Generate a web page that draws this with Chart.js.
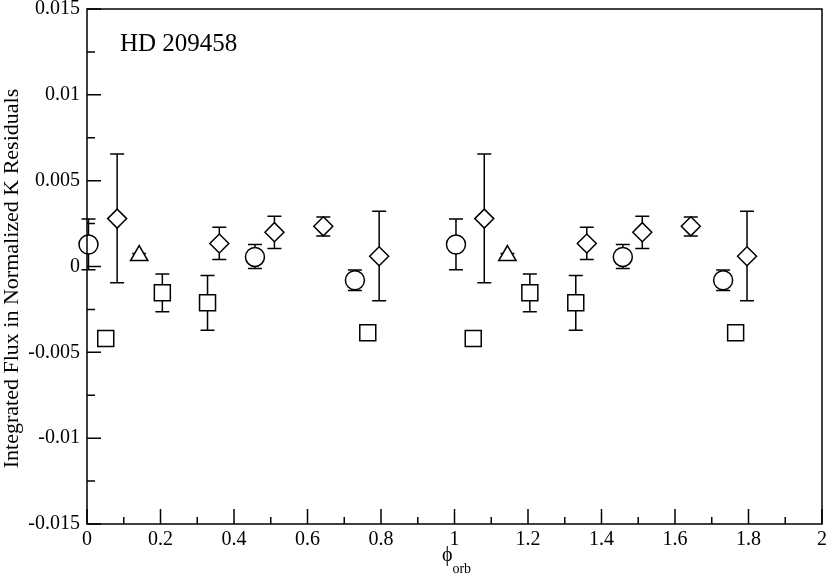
<!DOCTYPE html>
<html><head><meta charset="utf-8">
<script src="https://cdn.jsdelivr.net/npm/chart.js@4/dist/chart.umd.min.js"></script>
<style>html,body{margin:0;padding:0;background:#fff}canvas{display:block}</style>
</head><body>
<canvas id="c" width="830" height="578"></canvas>
<script>
// ---- text ----
const chartLabel = 'HD 209458';
const yAxisTitle = 'Integrated Flux in Normalized K Residuals';
const xAxisSymbol = '\u03D5';
const xAxisSub = 'orb';

// ---- axis ranges / ticks ----
const xRange = [0, 2];
const xStep = 0.2;
const yRange = [-0.015, 0.015];
const yStep = 0.005;

// ---- series (x = orbital phase, y = residual, lo/hi = error bar ends) ----
const circleX  = [0.004, 0.457, 0.729, 1.004, 1.458, 1.731];
const circleY  = [0.00128, 0.00056, -0.00080, 0.00128, 0.00056, -0.00080];
const circleLo = [-0.00019, -0.00012, -0.00140, -0.00019, -0.00012, -0.00140];
const circleHi = [0.00277, 0.00128, -0.00021, 0.00277, 0.00128, -0.00021];

const squareX  = [0.051, 0.205, 0.328, 0.764, 1.051, 1.205, 1.330, 1.765];
const squareY  = [-0.00419, -0.00153, -0.00211, -0.00386, -0.00419, -0.00153, -0.00211, -0.00386];
const squareLo = [-0.00419, -0.00263, -0.00372, -0.00386, -0.00419, -0.00263, -0.00372, -0.00386];
const squareHi = [-0.00419, -0.00043, -0.00052, -0.00386, -0.00419, -0.00043, -0.00052, -0.00386];

const diamondX  = [0.082, 0.360, 0.510, 0.643, 0.795, 1.081, 1.360, 1.511, 1.643, 1.796];
const diamondY  = [0.00279, 0.00134, 0.00200, 0.00234, 0.00060, 0.00279, 0.00134, 0.00200, 0.00234, 0.00060];
const diamondLo = [-0.00095, 0.00041, 0.00105, 0.00178, -0.00200, -0.00095, 0.00041, 0.00105, 0.00178, -0.00200];
const diamondHi = [0.00655, 0.00229, 0.00292, 0.00289, 0.00322, 0.00655, 0.00229, 0.00292, 0.00289, 0.00322];

const triangleX  = [0.142, 1.144];
const triangleY  = [0.00064, 0.00064];
const triangleLo = [0.00040, 0.00040];
const triangleHi = [0.00076, 0.00076];

function pts(xs, ys, lo, hi) {
  return xs.map((x, i) => ({x: x, y: ys[i], lo: lo[i], hi: hi[i]}));
}

const SERIF = "'Liberation Serif', 'Times New Roman', 'DejaVu Serif', serif";

function markerSet(label, data, style, radius) {
  return {
    label: label, data: data, pointStyle: style, pointRadius: radius,
    pointBackgroundColor: '#fff', pointBorderColor: '#000', pointBorderWidth: 1.5,
    showLine: false, clip: false
  };
}

const errorBars = {
  id: 'errorBars',
  beforeDatasetsDraw(chart) {
    const {ctx, scales: {x, y}} = chart;
    ctx.save();
    ctx.strokeStyle = '#000';
    ctx.lineWidth = 1.5;
    chart.data.datasets.forEach(ds => {
      ds.data.forEach(p => {
        if (p.lo === p.hi) return;
        const px = x.getPixelForValue(p.x);
        const y1 = y.getPixelForValue(p.lo), y2 = y.getPixelForValue(p.hi);
        ctx.beginPath();
        ctx.moveTo(px, y1); ctx.lineTo(px, y2);
        ctx.moveTo(px - 7, y1); ctx.lineTo(px + 7, y1);
        ctx.moveTo(px - 7, y2); ctx.lineTo(px + 7, y2);
        ctx.stroke();
      });
    });
    ctx.restore();
  }
};

const frameAndText = {
  id: 'frameAndText',
  afterDatasetsDraw(chart) {
    const {ctx, chartArea: a, scales: {x, y}} = chart;
    ctx.save();
    ctx.strokeStyle = '#000';
    ctx.lineWidth = 1.5;
    ctx.strokeRect(a.left, a.top, a.right - a.left, a.bottom - a.top);
    ctx.beginPath();
    // x ticks (inward)
    const xt = x.ticks.map(t => t.value);
    xt.forEach((v, i) => {
      const p = x.getPixelForValue(v);
      ctx.moveTo(p, a.bottom); ctx.lineTo(p, a.bottom - 15);
      if (i < xt.length - 1) {
        const m = x.getPixelForValue((v + xt[i + 1]) / 2);
        ctx.moveTo(m, a.bottom); ctx.lineTo(m, a.bottom - 7);
      }
    });
    // y ticks (inward)
    const yt = y.ticks.map(t => t.value);
    yt.forEach((v, i) => {
      const p = y.getPixelForValue(v);
      ctx.moveTo(a.left, p); ctx.lineTo(a.left + 14, p);
      if (i < yt.length - 1) {
        const m = y.getPixelForValue((v + yt[i + 1]) / 2);
        ctx.moveTo(a.left, m); ctx.lineTo(a.left + 8, m);
      }
    });
    ctx.stroke();

    ctx.fillStyle = '#000';
    ctx.textBaseline = 'alphabetic';

    // label inside plot
    ctx.font = '25px ' + SERIF;
    ctx.textAlign = 'left';
    ctx.fillText(chartLabel, a.left + 33, a.top + 42);

    // y axis title
    ctx.save();
    ctx.font = '22px ' + SERIF;
    ctx.textAlign = 'center';
    ctx.translate(18, (a.top + a.bottom) / 2 + 12);
    ctx.rotate(-Math.PI / 2);
    ctx.fillText(yAxisTitle, 0, 0);
    ctx.restore();

    // x axis title with subscript
    ctx.textAlign = 'left';
    ctx.font = '20px ' + SERIF;
    const w1 = ctx.measureText(xAxisSymbol).width;
    ctx.font = '14px ' + SERIF;
    const w2 = ctx.measureText(xAxisSub).width;
    const cx = (a.left + a.right) / 2 + 2;
    const sx = cx - (w1 + w2) / 2;
    ctx.font = '20px ' + SERIF;
    ctx.fillText(xAxisSymbol, sx, a.bottom + 36.5);
    ctx.font = '14px ' + SERIF;
    ctx.fillText(xAxisSub, sx + w1, a.bottom + 49);
    ctx.restore();
  }
};

function fmt(v) { return String(Math.round(v * 1000) / 1000); }

new Chart(document.getElementById('c'), {
  type: 'scatter',
  data: {
    datasets: [
      markerSet('circles', pts(circleX, circleY, circleLo, circleHi), 'circle', 9.5),
      markerSet('squares', pts(squareX, squareY, squareLo, squareHi), 'rect', 11.3),
      markerSet('diamonds', pts(diamondX, diamondY, diamondLo, diamondHi), 'rectRot', 9.5),
      markerSet('triangles', pts(triangleX, triangleY, triangleLo, triangleHi), 'triangle', 10)
    ]
  },
  options: {
    responsive: false,
    animation: false,
    devicePixelRatio: 1,
    layout: {autoPadding: false, padding: {top: 9, right: 8, left: 0, bottom: 0}},
    plugins: {legend: {display: false}, tooltip: {enabled: false}},
    scales: {
      x: {
        type: 'linear', min: xRange[0], max: xRange[1],
        grid: {display: false, drawTicks: false},
        border: {display: false},
        ticks: {stepSize: xStep, autoSkip: false, maxRotation: 0, padding: 4, color: '#000',
                font: {family: SERIF, size: 20}, callback: v => fmt(v)},
        afterFit(s) { s.height = 54; s.paddingLeft = 0; s.paddingRight = 0; }
      },
      y: {
        type: 'linear', min: yRange[0], max: yRange[1],
        grid: {display: false, drawTicks: false},
        border: {display: false},
        ticks: {stepSize: yStep, autoSkip: false, padding: 7, color: '#000',
                font: {family: SERIF, size: 20}, callback: v => fmt(v)},
        afterFit(s) { s.width = 87; s.paddingTop = 0; s.paddingBottom = 0; }
      }
    }
  },
  plugins: [errorBars, frameAndText]
});
</script>
</body></html>
